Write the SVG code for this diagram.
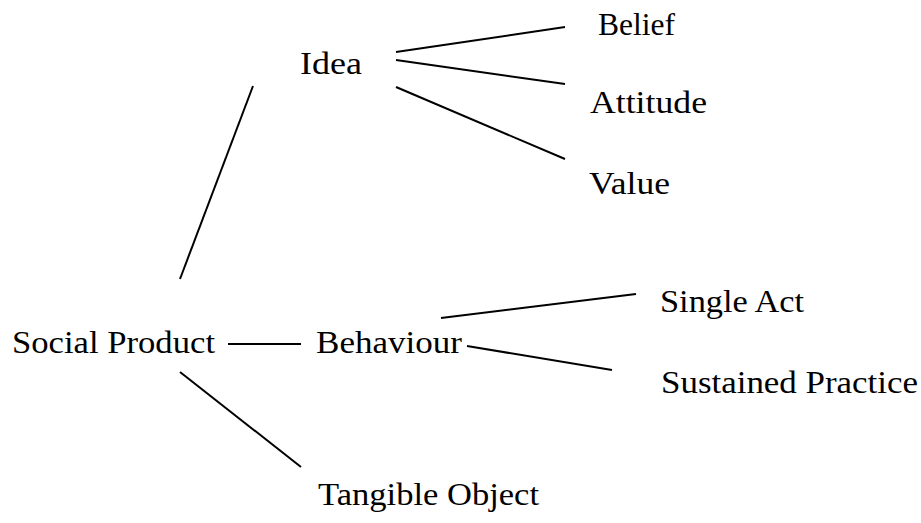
<svg xmlns="http://www.w3.org/2000/svg" width="921" height="523" viewBox="0 0 921 523">
<style>
text{font-family:"Liberation Serif","DejaVu Serif",serif;font-size:32px;fill:#000}
line{stroke:#000;stroke-width:2}
</style>
<rect width="921" height="523" fill="#fff"/>
<g id="connectors">
<line x1="180" y1="279" x2="253" y2="86"/>
<line x1="228" y1="344" x2="301" y2="344"/>
<line x1="180" y1="372" x2="301" y2="467"/>
<line x1="396" y1="52" x2="565" y2="27"/>
<line x1="396" y1="60" x2="565" y2="84"/>
<line x1="396" y1="87" x2="565" y2="159"/>
<line x1="441" y1="318" x2="636" y2="294"/>
<line x1="467" y1="346" x2="612" y2="370"/>
</g>
<g id="social-product"><text x="12" y="353" textLength="203" lengthAdjust="spacingAndGlyphs">Social Product</text></g>
<g id="idea"><text x="300" y="74" textLength="62" lengthAdjust="spacingAndGlyphs">Idea</text></g>
<g id="belief"><text x="598" y="35" textLength="77" lengthAdjust="spacingAndGlyphs">Belief</text></g>
<g id="attitude"><text x="590" y="113" textLength="117" lengthAdjust="spacingAndGlyphs">Attitude</text></g>
<g id="value"><text x="589" y="194" textLength="81" lengthAdjust="spacingAndGlyphs">Value</text></g>
<g id="behaviour"><text x="316" y="353" textLength="146" lengthAdjust="spacingAndGlyphs">Behaviour</text></g>
<g id="single-act"><text x="660" y="312" textLength="144" lengthAdjust="spacingAndGlyphs">Single Act</text></g>
<g id="sustained-practice"><text x="661" y="393" textLength="257" lengthAdjust="spacingAndGlyphs">Sustained Practice</text></g>
<g id="tangible-object"><text x="318" y="505" textLength="221" lengthAdjust="spacingAndGlyphs">Tangible Object</text></g>
</svg>
